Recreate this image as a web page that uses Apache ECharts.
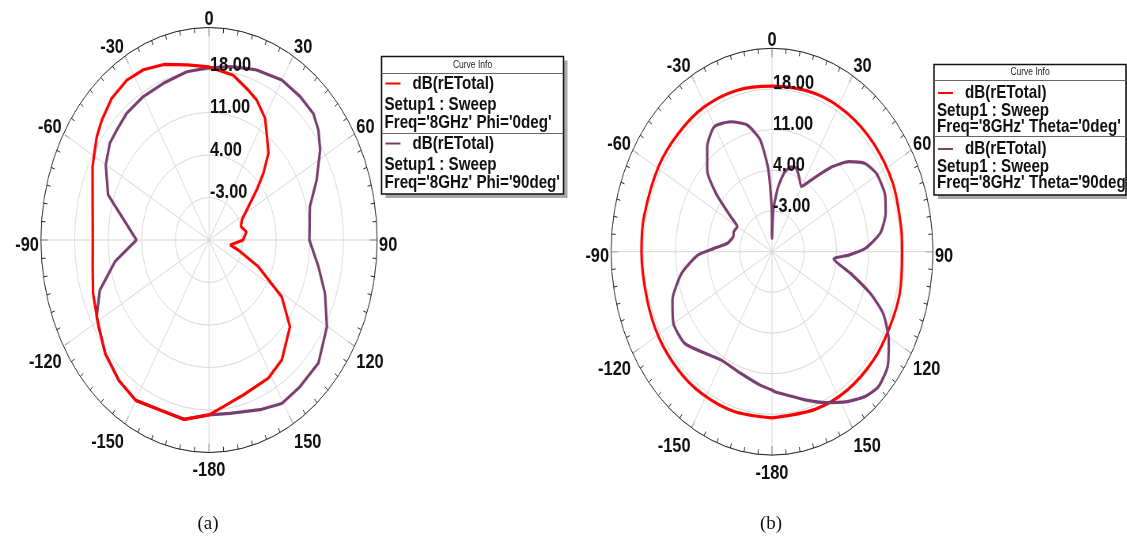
<!DOCTYPE html>
<html>
<head>
<meta charset="utf-8">
<script src="https://cdn.jsdelivr.net/npm/echarts@6/dist/echarts.min.js"></script>
<style>
html,body{margin:0;padding:0;background:#fff;}
#wrap{position:relative;width:1127px;height:540px;overflow:hidden;background:#fff;}
#polar{position:absolute;left:0;top:0;height:540px;transform-origin:0 0;}
#text{position:absolute;left:0;top:0;width:1127px;height:540px;}
</style>
</head>
<body>
<div id="wrap"><div id="polar"></div><div id="text"></div></div>
<script>
// ---------------- data (angle in deg, value in dB) ----------------
const angleTickValues = [0, 30, 60, 90, 120, 150, 180, -150, -120, -90, -60, -30];
const angleTickLabels = ['0', '30', '60', '90', '120', '150', '-180', '-150', '-120', '-90', '-60', '-30'];
const radiusTickValues = [-3, 4, 11, 18];
const radiusTickLabels = ['-3.00', '4.00', '11.00', '18.00'];
const R_MIN = -10, R_MAX = 25, R_STEP = 7;

// (a) Phi = 0deg
const aPhi0Angle = [-180,-170,-160,-150,-141,-131,-122,-110,-100,-90,-80,-70,-63.5,-54,-48.5,-41,-33,-26,-18,-9,0,10.5,18.3,23.3,30.2,34.3,40.9,45.8,50.3,57.8,64.2,71.6,80,90,100.6,105.1,113.2,121.7,130.3,142.5,151.5,164.4,173.8,180];
const aPhi0dB    = [18.8,20.0,19.8,20.5,19.8,18.6,17.1,15.7,14.6,14.2,14.6,15.8,17.1,18.9,19.8,20.9,21.4,21.2,20.4,19.2,18.5,17.6,16.0,15.1,13.2,11.3,8.9,5.8,2.9,-0.7,-2.4,-3.0,-2.1,-2.9,-5.5,-3.7,1.2,7.8,12.1,14.9,15.9,16.5,17.6,18.8];
// (a) Phi = 90deg
const aPhi90Angle = [-180,-170,-160,-150,-141,-131,-118.4,-110,-100.3,-90,-70.5,-60.1,-52.3,-46.7,-39.4,-30.1,-20.2,-9.5,-1,8.7,16.2,19.5,29.9,38.8,46.2,51.5,57.3,66.2,75.4,90,100.9,110,120.2,131.7,141.9,150.6,159.2,171.3,180];
const aPhi90dB    = [18.8,20.0,19.8,20.5,19.8,18.6,16.6,14.2,9.9,5.1,12.3,14.8,16.1,16.4,17.0,17.3,17.5,18.1,18.3,18.9,19.4,19.7,20.4,20.3,20.1,19.1,17.5,14.5,11.7,10.9,13.2,15.7,18.4,20.5,20.7,20.9,19.9,18.9,18.8];
// (b) Theta = 0deg
const bTheta0Angle = [-180,-163,-148,-135,-121,-107,-90,-77.8,-59.3,-45,-30.5,-15.2,0,19,34.5,50,66,81,90,104.5,117,130,145.5,161,180];
const bTheta0dB    = [18.6,18.7,18.8,18.8,18.7,18.4,18.4,18.5,18.7,18.8,18.95,18.8,18.5,18.8,18.9,18.9,18.8,18.4,18.3,18.7,18.7,18.9,18.9,18.7,18.6];
// (b) Theta = 90deg
const bTheta90Angle = [-180,-173.6,-161.9,-149.1,-139.9,-129.7,-119.9,-111,-100.7,-92,-87.4,-81.5,-72.9,-67.4,-60.3,-56.2,-50.5,-45.1,-38,-30.3,-21.9,-13.9,-7.6,-3.2,-0.4,0,2.2,6.9,11.4,16.1,20.2,24.4,29.6,31.6,36.6,41.8,47.2,53.1,59.4,67.8,75,82.2,88.4,92,95.3,102.3,108.5,113.7,120.9,128.2,135.1,140.9,148.2,155.7,163.8,172.7,178.5,180];
const bTheta90dB    = [13.8,13.1,12.0,11.7,12.8,14.7,14.75,13.2,10.0,6.1,2.6,-0.2,-1.2,-1.0,-1.3,0.8,5.8,9.9,12.9,14.9,14.1,12.45,9.4,4.1,-2.8,-7.7,-2.8,1.3,4.0,5.2,5.3,4.2,2.9,3.5,6.1,9.6,12.8,15.3,16.4,16.5,15.6,13.8,10.3,6.7,3.5,7.5,12.5,16.4,19.6,22.0,22.8,22.1,20.4,18.5,16.6,14.85,14.1,13.8];

const legendA = [
  { color: '#ff0000', title: 'dB(rETotal)', lines: ['Setup1 : Sweep', "Freq='8GHz' Phi='0deg'"] },
  { color: '#7a3d6f', title: 'dB(rETotal)', lines: ['Setup1 : Sweep', "Freq='8GHz' Phi='90deg'"] }
];
const legendB = [
  { color: '#ff0000', title: 'dB(rETotal)', lines: ['Setup1 : Sweep', "Freq='8GHz' Theta='0deg'"] },
  { color: '#7a3d6f', title: 'dB(rETotal)', lines: ['Setup1 : Sweep', "Freq='8GHz' Theta='90deg'"] }
];
const captions = ['(a)', '(b)'];

// ---------------- layout ----------------
const RED = '#ff0000', PURPLE = '#7a3d6f';
const SX = 0.791;                       // horizontal squeeze of the polar plots
const CENTERS = [[209, 240], [772, 251.7]];
const RV = [212.5, 203.4];
const SANS = '"Liberation Sans",Arial,sans-serif';
const NARROW_SCALE = 0.82;              // emulate a narrow (condensed) face

const pairs = (ang, val) => ang.map((a, i) => [val[i], a]);

const polarDiv = document.getElementById('polar');
polarDiv.style.width = (1127 / SX) + 'px';
polarDiv.style.transform = 'scaleX(' + SX + ')';

const chart = echarts.init(polarDiv, null, { renderer: 'canvas' });
const angleAxis = i => ({
  polarIndex: i, type: 'value', min: -180, max: 180, interval: 30,
  startAngle: 270, clockwise: true,
  axisLine: { show: true, lineStyle: { color: '#222', width: 1 } },
  axisTick: { show: true, inside: true, length: 9, lineStyle: { color: '#222', width: 1 } },
  minorTick: { show: true, splitNumber: 6, length: 5, lineStyle: { color: '#222', width: 1 } },
  axisLabel: { show: false },
  splitLine: { show: true, lineStyle: { color: '#d6d6d6', width: 1 } }
});
const radiusAxis = i => ({
  polarIndex: i, type: 'value', min: R_MIN, max: R_MAX, interval: R_STEP,
  axisLine: { show: false }, axisTick: { show: false }, axisLabel: { show: false },
  splitLine: { show: true, lineStyle: { color: '#d6d6d6', width: 1 } }
});
const line = (i, ang, val, color, width, smooth, z) => ({
  type: 'line', coordinateSystem: 'polar', polarIndex: i,
  data: pairs(ang, val), showSymbol: false, smooth: smooth, z: z,
  lineStyle: { color: color, width: width }
});
chart.setOption({
  animation: false,
  polar: [
    { center: [CENTERS[0][0] / SX, CENTERS[0][1]], radius: RV[0] },
    { center: [CENTERS[1][0] / SX, CENTERS[1][1]], radius: RV[1] }
  ],
  angleAxis: [angleAxis(0), angleAxis(1)],
  radiusAxis: [radiusAxis(0), radiusAxis(1)],
  series: [
    line(0, aPhi90Angle, aPhi90dB, PURPLE, 3.2, false, 2),
    line(0, aPhi0Angle, aPhi0dB, RED, 3.2, false, 3),
    line(1, bTheta0Angle, bTheta0dB, RED, 3.2, 0.3, 2),
    line(1, bTheta90Angle, bTheta90dB, PURPLE, 3.2, 0.2, 3)
  ]
});

// ---------------- text overlay ----------------
const txt = echarts.init(document.getElementById('text'), null, { renderer: 'canvas' });
const els = [];
function addText(text, x, y, font, align, valign, fill, sx) {
  els.push({ type: 'text', x: x, y: y, scaleX: sx || NARROW_SCALE, silent: true, style: {
    text: text, x: 0, y: 0, font: font, fill: fill || '#111',
    align: align, textAlign: align, verticalAlign: valign, textVerticalAlign: valign } });
}
for (let p = 0; p < 2; p++) {
  const cx = CENTERS[p][0], cy = CENTERS[p][1], rv = RV[p], rh = RV[p] * SX;
  angleTickValues.forEach((deg, k) => {
    const t = deg * Math.PI / 180, s = Math.sin(t), c = Math.cos(t);
    const x = cx + (rh + 2) * s;
    const y = cy - (rv + 13 + 12 * s * s) * c + 5;
    const align = s > 0.1 ? 'left' : (s < -0.1 ? 'right' : 'center');
    addText(angleTickLabels[k], x, y, 'bold 20px ' + SANS, align, 'middle');
  });
  radiusTickValues.forEach((v, k) => {
    const y = cy - (v - R_MIN) / (R_MAX - R_MIN) * rv - 5;
    addText(radiusTickLabels[k], cx + 1, y, 'bold 20px ' + SANS, 'left', 'middle');
  });
}
function legendBox(entries, x, y, w, headerH, rows, h) {
  els.push({ type: 'rect', silent: true, shape: { x: x + 4, y: y + 4, width: w, height: h }, style: { fill: '#a8a8a8' } });
  els.push({ type: 'rect', silent: true, shape: { x: x, y: y, width: w, height: h }, style: { fill: '#fff', stroke: '#111', lineWidth: 1.5 } });
  addText('Curve Info', x + w / 2, y + headerH / 2, '10px ' + SANS, 'center', 'middle', '#222', 0.85);
  els.push({ type: 'line', silent: true, shape: { x1: x, y1: y + headerH, x2: x + w, y2: y + headerH }, style: { stroke: '#666', lineWidth: 1 } });
  let yy = y + headerH;
  entries.forEach((e, i) => {
    if (i > 0) {
      els.push({ type: 'line', silent: true, shape: { x1: x, y1: yy, x2: x + w, y2: yy }, style: { stroke: '#666', lineWidth: 1 } });
    }
    const y0 = yy + rows[0];
    els.push({ type: 'line', silent: true, shape: { x1: x + 4, y1: y0, x2: x + 19, y2: y0 }, style: { stroke: e.color, lineWidth: 2 } });
    addText(e.title, x + 31, y0, 'bold 18.5px ' + SANS, 'left', 'middle');
    addText(e.lines[0], x + 3, y0 + rows[1], 'bold 18.5px ' + SANS, 'left', 'middle');
    addText(e.lines[1], x + 3, y0 + rows[1] + rows[2], 'bold 18.5px ' + SANS, 'left', 'middle');
    yy += rows[3];
  });
}
legendBox(legendA, 381.5, 56.5, 182, 17, [10, 21, 18, 60], 137.5);
legendBox(legendB, 934, 64.5, 192, 16, [12.5, 18, 16, 56], 130.5);
addText(captions[0], 208, 524, '19px "Liberation Serif","Times New Roman",serif', 'center', 'middle', '#111', 1);
addText(captions[1], 771, 524, '19px "Liberation Serif","Times New Roman",serif', 'center', 'middle', '#111', 1);
txt.setOption({ animation: false, graphic: { elements: els } });
</script>
</body>
</html>
